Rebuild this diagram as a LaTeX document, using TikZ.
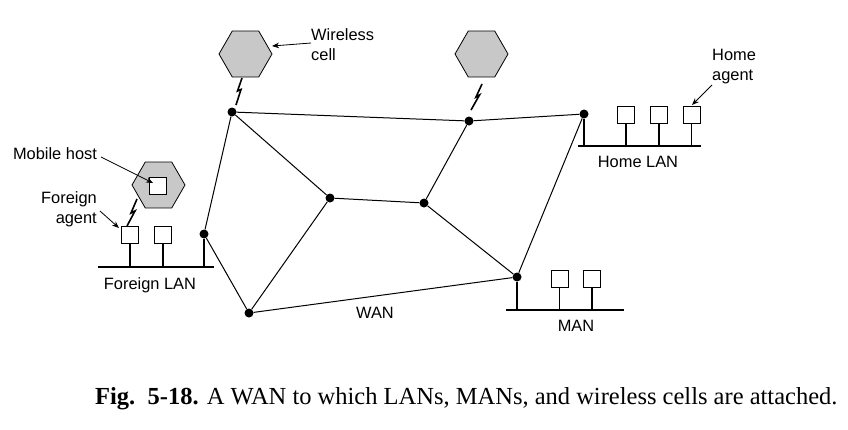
\documentclass[tikz,border=0pt]{standalone}
\usepackage{fontspec}
\setmainfont{Liberation Serif}
\newfontfamily\labelfont{Liberation Sans}
\usetikzlibrary{shapes.geometric,arrows.meta}
\definecolor{hexfill}{RGB}{200,200,200}
\begin{document}
\begin{tikzpicture}[x=1pt,y=-1pt,
  router/.style={circle,fill=black,inner sep=0pt,minimum size=9pt},
  cellhex/.style={regular polygon,regular polygon sides=6,draw,fill=hexfill,inner sep=0pt,minimum size=53pt,line width=0.8pt},
  hostbox/.style={rectangle,draw,fill=white,inner sep=0pt,minimum width=17pt,minimum height=17pt,line width=0.8pt},
  link/.style={line width=1pt},
  lan/.style={line width=1.1pt},
  bolt/.style={line width=1.6pt,line join=miter},
  arr/.style={line width=0.8pt,-{Stealth[length=7pt,width=5.5pt]}},
  lbl/.style={font=\labelfont\fontsize{16.4}{20}\selectfont,inner sep=0pt},
]
\path[use as bounding box] (0,0) rectangle (848,429);

% routers
\node[router] (A) at (232,112) {};
\node[router] (B) at (469,121) {};
\node[router] (C) at (584,114) {};
\node[router] (D) at (330,198) {};
\node[router] (E) at (424,203) {};
\node[router] (F) at (204,234) {};
\node[router] (G) at (249,313) {};
\node[router] (H) at (517,277) {};

% WAN links
\draw[link] (A) -- (B);
\draw[link] (B) -- (C);
\draw[link] (A) -- (F);
\draw[link] (A) -- (D);
\draw[link] (D) -- (E);
\draw[link] (E) -- (B);
\draw[link] (D) -- (G);
\draw[link] (F) -- (G);
\draw[link] (G) -- (H);
\draw[link] (E) -- (H);
\draw[link] (C) -- (H);

% wireless cells
\node[cellhex] (cell1) at (245.5,54) {};
\node[cellhex] (cell2) at (481.5,54) {};
\node[cellhex] (cell3) at (158.5,185) {};
\node[hostbox] (mh) at (157.5,185.5) {};

% foreign LAN
\coordinate (fl1) at (98,267);
\coordinate (fl2) at (214,267);
\draw[lan] (fl1) -- (fl2);
\node[hostbox] (fa) at (130,235) {};
\node[hostbox] (fb) at (163,235) {};
\draw[lan] (fa) -- (fa |- fl1);
\draw[lan] (fb) -- (fb |- fl1);
\draw[lan] (F) -- (F |- fl1);

% home LAN
\coordinate (hl1) at (578,146);
\coordinate (hl2) at (701,146);
\draw[lan] (hl1) -- (hl2);
\node[hostbox] (ha) at (626,115) {};
\node[hostbox] (hb) at (659,115) {};
\node[hostbox] (hc) at (691.5,115) {};
\draw[lan] (ha) -- (ha |- hl1);
\draw[lan] (hb) -- (hb |- hl1);
\draw[lan] (hc) -- (hc |- hl1);
\draw[lan] (C) -- (C |- hl1);

% MAN
\coordinate (ml1) at (506,310);
\coordinate (ml2) at (624,310);
\draw[lan] (ml1) -- (ml2);
\node[hostbox] (ma) at (559.5,278.5) {};
\node[hostbox] (mb) at (592,278.5) {};
\draw[lan] (ma) -- (ma |- ml1);
\draw[lan] (mb) -- (mb |- ml1);
\draw[lan] (H) -- (H |- ml1);

% lightning bolts
\coordinate (b1a) at (242,78);
\coordinate (b1b) at (237.5,91);
\coordinate (b1c) at (241,89.5);
\coordinate (b1d) at (236,105);
\draw[bolt] (b1a) -- (b1b) -- (b1c) -- (b1d);
\coordinate (b2a) at (482,84);
\coordinate (b2b) at (476,97);
\coordinate (b2c) at (479.5,95);
\coordinate (b2d) at (471,110);
\draw[bolt] (b2a) -- (b2b) -- (b2c) -- (b2d);
\coordinate (b3a) at (137,199);
\coordinate (b3b) at (131,213);
\coordinate (b3c) at (135,211);
\coordinate (b3d) at (127,226);
\draw[bolt] (b3a) -- (b3b) -- (b3c) -- (b3d);

% labels
\node[lbl] (mhl) at (55,154) {Mobile host};
\node[lbl,align=right,anchor=east] (fal) at (97,209) {Foreign\\agent};
\node[lbl] (fll) at (150,285) {Foreign LAN};
\node[lbl,align=left,anchor=west] (wcl) at (311,45) {Wireless\\cell};
\node[lbl,align=left,anchor=west] (hal) at (712,66.5) {Home\\agent};
\node[lbl] (hll) at (638,162) {Home LAN};
\node[lbl] (manl) at (576,326) {MAN};
\node[lbl] (wanl) at (375,313) {WAN};

% label arrows
\coordinate (mhs) at (101,157);
\coordinate (mht) at (153,183);
\draw[arr] (mhs) -- (mht);
\coordinate (fas) at (100,211);
\coordinate (fat) at (119,228);
\draw[arr] (fas) -- (fat);
\coordinate (wcs) at (311,43);
\coordinate (wct) at (272,46);
\draw[arr] (wcs) -- (wct);
\coordinate (has) at (712,85);
\coordinate (hat) at (692,105);
\draw[arr] (has) -- (hat);

% caption
\node[anchor=base west,inner sep=0pt,font=\fontsize{24.5}{28}\selectfont] (cap) at (95,404)
  {\textbf{Fig.\ \ 5-18.} A WAN to which LANs, MANs, and wireless cells are attached.};
\end{tikzpicture}
\end{document}
